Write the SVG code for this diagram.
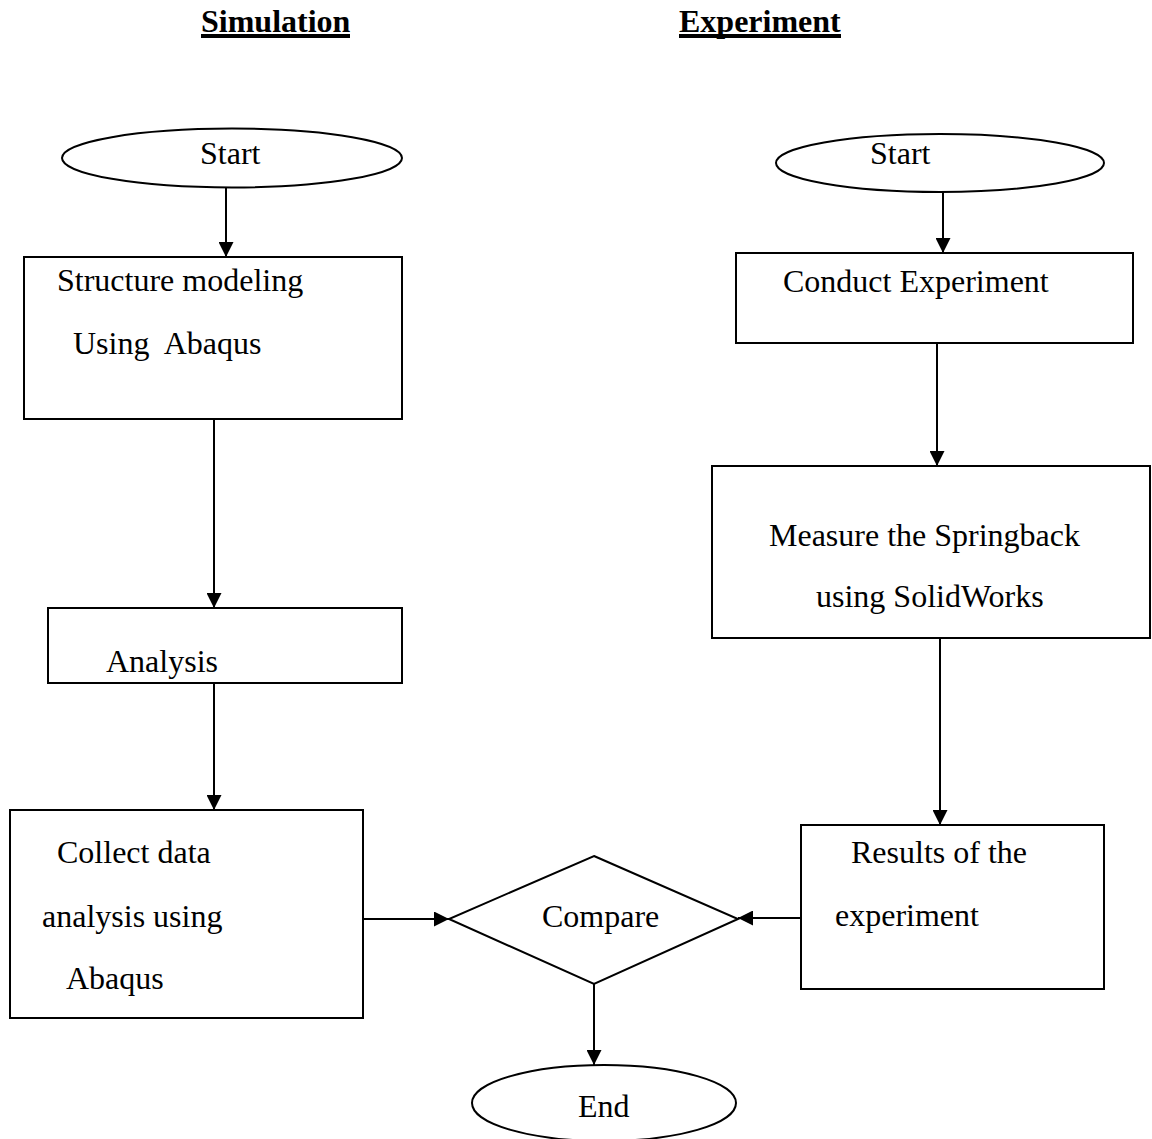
<svg xmlns="http://www.w3.org/2000/svg" width="1152" height="1139" viewBox="0 0 1152 1139">
<style>
.shape{fill:#fff;stroke:#000;stroke-width:2}
.t{font-family:"Liberation Serif","Times New Roman",serif;font-size:32px;fill:#000}
.h{font-family:"Liberation Serif","Times New Roman",serif;font-size:32px;font-weight:bold;fill:#000}
.c{stroke:#000;stroke-width:2;fill:none;marker-end:url(#ah)}
</style>
<defs>
<marker id="ah" viewBox="0 0 10 10" refX="10" refY="5" markerWidth="15" markerHeight="15" markerUnits="userSpaceOnUse" orient="auto">
<path d="M0,0 L10,5 L0,10 z" fill="#000"/>
</marker>
</defs>
<rect width="1152" height="1139" fill="#fff"/>
<g id="titles">
<text class="h" x="201" y="32">Simulation</text>
<rect x="201" y="34" width="149" height="4" fill="#000"/>
<text class="h" x="679" y="32">Experiment</text>
<rect x="679" y="34" width="162" height="4" fill="#000"/>
</g>
<g id="connectors">
<line class="c" x1="226" y1="188" x2="226" y2="257"/>
<line class="c" x1="943" y1="192" x2="943" y2="253"/>
<line class="c" x1="937" y1="343" x2="937" y2="466"/>
<line class="c" x1="940" y1="638" x2="940" y2="825"/>
<line class="c" x1="214" y1="419" x2="214" y2="608"/>
<line class="c" x1="214" y1="683" x2="214" y2="810"/>
<line class="c" x1="363" y1="919" x2="449" y2="919"/>
<line class="c" x1="801" y1="918" x2="738" y2="918"/>
<line class="c" x1="594" y1="984" x2="594" y2="1065"/>
</g>
<g id="sim-start">
<ellipse class="shape" cx="232" cy="158" rx="170" ry="29.5"/>
<text class="t" x="200" y="164">Start</text>
</g>
<g id="structure-modeling">
<rect class="shape" x="24" y="257" width="378" height="162"/>
<text class="t" x="57" y="291">Structure modeling</text>
<text class="t" x="73" y="354" xml:space="preserve">Using  Abaqus</text>
</g>
<g id="analysis">
<rect class="shape" x="48" y="608" width="354" height="75"/>
<text class="t" x="106" y="672">Analysis</text>
</g>
<g id="collect-data">
<rect class="shape" x="10" y="810" width="353" height="208"/>
<text class="t" x="57" y="863">Collect data</text>
<text class="t" x="42" y="927">analysis using</text>
<text class="t" x="66" y="989">Abaqus</text>
</g>
<g id="exp-start">
<ellipse class="shape" cx="940" cy="163" rx="164" ry="29"/>
<text class="t" x="870" y="164">Start</text>
</g>
<g id="conduct-experiment">
<rect class="shape" x="736" y="253" width="397" height="90"/>
<text class="t" x="783" y="292">Conduct Experiment</text>
</g>
<g id="measure-springback">
<rect class="shape" x="712" y="466" width="438" height="172"/>
<text class="t" x="769" y="546">Measure the Springback</text>
<text class="t" x="816" y="607">using SolidWorks</text>
</g>
<g id="results">
<rect class="shape" x="801" y="825" width="303" height="164"/>
<text class="t" x="851" y="863">Results of the</text>
<text class="t" x="835" y="926">experiment</text>
</g>
<g id="compare">
<polygon class="shape" points="594,856 738,919 594,984 449,919"/>
<text class="t" x="542" y="927">Compare</text>
</g>
<g id="end">
<ellipse class="shape" cx="604" cy="1103" rx="132" ry="38"/>
<text class="t" x="578" y="1117">End</text>
</g>
</svg>
